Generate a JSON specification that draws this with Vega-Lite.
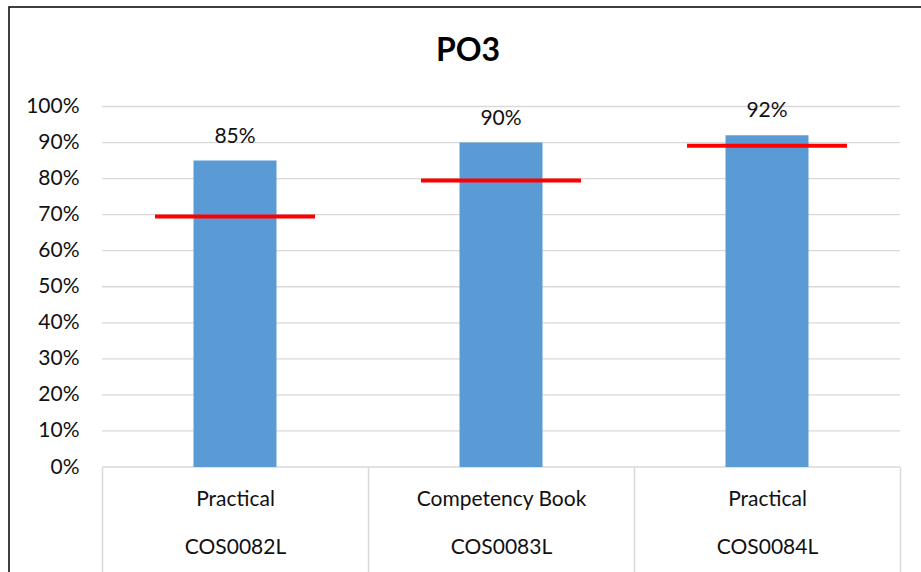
{
  "$schema": "https://vega.github.io/schema/vega-lite/v6.json",
  "autosize": "none",
  "width": 918,
  "height": 570,
  "padding": {"left": 9, "top": 7, "right": 0, "bottom": 0},
  "background": "white",
  "config": {
    "view": {"stroke": "#000000", "strokeWidth": 1.5, "fill": "white"},
    "font": "Lato"
  },
  "title": {
    "text": "PO3",
    "font": "Lato",
    "fontSize": 32,
    "fontWeight": "bold",
    "color": "#000000",
    "anchor": "middle",
    "frame": "group",
    "baseline": "alphabetic",
    "offset": -86
  },
  "layer": [
    {
      "data": {
        "values": [
          {"v": 0}, {"v": 0.1}, {"v": 0.2}, {"v": 0.3}, {"v": 0.4}, {"v": 0.5},
          {"v": 0.6}, {"v": 0.7}, {"v": 0.8}, {"v": 0.9}, {"v": 1}
        ]
      },
      "mark": {"type": "rule", "color": "#d9d9d9", "strokeWidth": 1.3},
      "encoding": {
        "x": {"datum": 0, "type": "quantitative", "scale": {"domain": [0, 1], "range": [93, 891]}, "axis": null},
        "x2": {"datum": 1},
        "y": {
          "field": "v",
          "type": "quantitative",
          "scale": {"domain": [0, 1], "range": [460, 99.5], "nice": false},
          "axis": {
            "orient": "left",
            "offset": -93,
            "title": null,
            "domain": false,
            "ticks": false,
            "grid": false,
            "labelPadding": 23,
            "values": [0, 0.1, 0.2, 0.3, 0.4, 0.5, 0.6, 0.7, 0.8, 0.9, 1],
            "format": ".0%",
            "labelFont": "Lato",
            "labelFontSize": 21,
            "labelColor": "#111111"
          }
        }
      }
    },
    {
      "data": {
        "values": [
          {"category": "Practical|COS0082L", "score": 0.85, "target": 0.695},
          {"category": "Competency Book|COS0083L", "score": 0.90, "target": 0.795},
          {"category": "Practical|COS0084L", "score": 0.92, "target": 0.891}
        ]
      },
      "encoding": {
        "x": {
          "field": "category",
          "type": "nominal",
          "sort": null,
          "scale": {"type": "band", "range": [93, 891], "paddingInner": 0, "paddingOuter": 0},
          "axis": {
            "orient": "bottom",
            "offset": -110,
            "title": null,
            "domain": false,
            "grid": false,
            "tickBand": "extent",
            "tickSize": 105,
            "tickColor": "#d9d9d9",
            "tickWidth": 1.5,
            "labelAngle": 0,
            "labelPadding": -67,
            "labelLineHeight": 48,
            "labelBaseline": "alphabetic",
            "labelExpr": "split(datum.label, '|')",
            "labelFont": "Lato",
            "labelFontSize": 21,
            "labelColor": "#111111"
          }
        }
      },
      "layer": [
        {
          "mark": {"type": "bar", "color": "#5b9bd5", "width": {"band": 0.312}},
          "encoding": {
            "y": {"field": "score", "type": "quantitative"}
          }
        },
        {
          "mark": {"type": "tick", "color": "#ff0000", "opacity": 1, "thickness": 4, "size": 160},
          "encoding": {
            "y": {"field": "target", "type": "quantitative"}
          }
        },
        {
          "mark": {"type": "text", "baseline": "alphabetic", "dy": -18, "font": "Lato", "fontSize": 21, "color": "#111111"},
          "encoding": {
            "y": {"field": "score", "type": "quantitative"},
            "text": {"field": "score", "type": "quantitative", "format": ".0%"}
          }
        }
      ]
    }
  ],
  "resolve": {"scale": {"x": "independent"}, "axis": {"x": "independent"}}
}
